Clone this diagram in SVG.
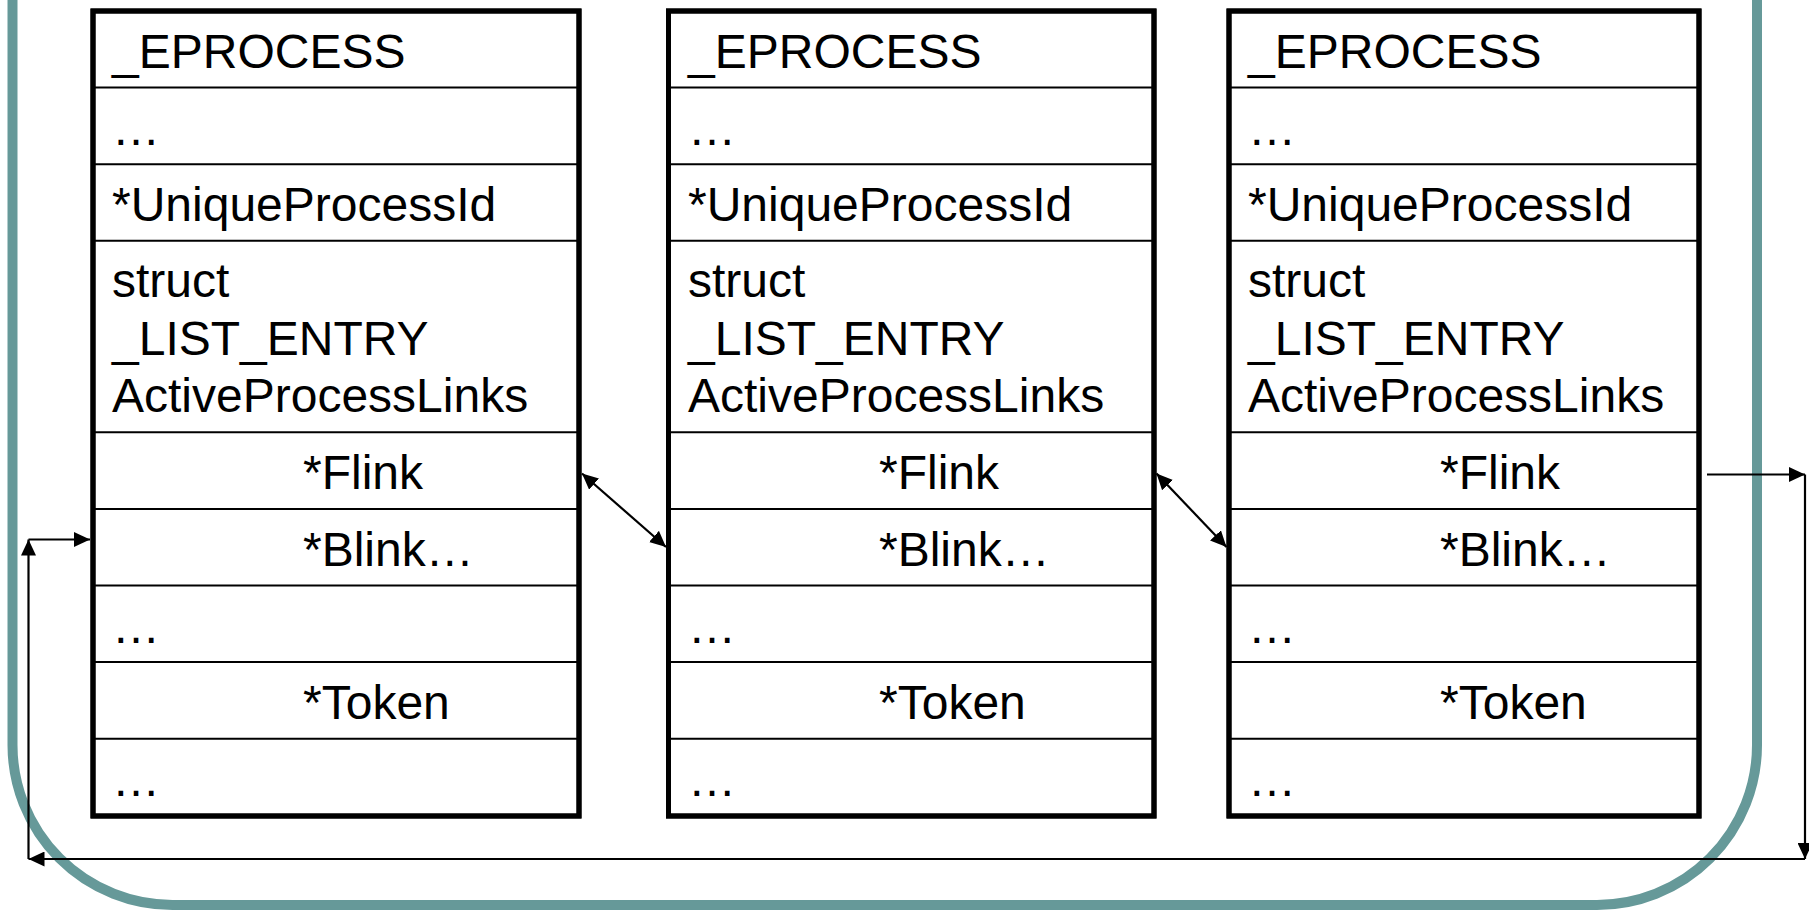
<svg xmlns="http://www.w3.org/2000/svg" width="1809" height="911" viewBox="0 0 1809 911">
  <style>
    .frame { fill: none; stroke: #669999; stroke-width: 10; }
    .box { fill: #ffffff; stroke: #000000; stroke-width: 5; }
    .row { stroke: #000000; stroke-width: 2; }
    .lbl { font-family: "Liberation Sans", Arial, sans-serif; font-size: 48px; fill: #000000; }
    .link { fill: none; stroke: #000000; stroke-width: 2.2; }
    .one { marker-end: url(#head); }
    .both { marker-start: url(#head); marker-end: url(#head); }
  </style>
  <defs>
    <marker id="head" markerUnits="userSpaceOnUse" markerWidth="16" markerHeight="15" viewBox="0 0 16 15" refX="16" refY="7.5" orient="auto-start-reverse">
      <path d="M0,0 L16,7.5 L0,15 Z" fill="#000000"/>
    </marker>
  </defs>

  <rect width="1809" height="911" fill="#ffffff"/>

  <!-- rounded slide frame (top edge runs off the canvas) -->
  <g id="frame">
    <rect class="frame" x="12.5" y="-300" width="1744.5" height="1205" rx="160" ry="160"/>
  </g>

  <!-- _EPROCESS block 1 -->
  <g id="eprocess-1">
    <rect class="box" x="93" y="11" width="486" height="805"/>
    <g class="row">
      <line x1="93" y1="87.6" x2="579" y2="87.6"/>
      <line x1="93" y1="164.2" x2="579" y2="164.2"/>
      <line x1="93" y1="240.8" x2="579" y2="240.8"/>
      <line x1="93" y1="432.3" x2="579" y2="432.3"/>
      <line x1="93" y1="508.9" x2="579" y2="508.9"/>
      <line x1="93" y1="585.5" x2="579" y2="585.5"/>
      <line x1="93" y1="662.1" x2="579" y2="662.1"/>
      <line x1="93" y1="738.7" x2="579" y2="738.7"/>
    </g>
    <rect class="box" x="93" y="11" width="486" height="805" fill="none" style="fill:none"/>
    <g class="lbl">
      <text x="112" y="68.3">_EPROCESS</text>
      <text x="112" y="144.7">…</text>
      <text x="112" y="221.3">*UniqueProcessId</text>
      <text x="112" y="297">struct</text>
      <text x="112" y="354.5">_LIST_ENTRY</text>
      <text x="112" y="412">ActiveProcessLinks</text>
      <text x="303" y="489.4">*Flink</text>
      <text x="303" y="566">*Blink…</text>
      <text x="112" y="642.6">…</text>
      <text x="303" y="719.2">*Token</text>
      <text x="112" y="795.8">…</text>
    </g>
  </g>

  <!-- _EPROCESS block 2 -->
  <g id="eprocess-2">
    <rect class="box" x="668.5" y="11" width="485.5" height="805"/>
    <g class="row">
      <line x1="668.5" y1="87.6" x2="1154" y2="87.6"/>
      <line x1="668.5" y1="164.2" x2="1154" y2="164.2"/>
      <line x1="668.5" y1="240.8" x2="1154" y2="240.8"/>
      <line x1="668.5" y1="432.3" x2="1154" y2="432.3"/>
      <line x1="668.5" y1="508.9" x2="1154" y2="508.9"/>
      <line x1="668.5" y1="585.5" x2="1154" y2="585.5"/>
      <line x1="668.5" y1="662.1" x2="1154" y2="662.1"/>
      <line x1="668.5" y1="738.7" x2="1154" y2="738.7"/>
    </g>
    <rect class="box" x="668.5" y="11" width="485.5" height="805" style="fill:none"/>
    <g class="lbl">
      <text x="688" y="68.3">_EPROCESS</text>
      <text x="688" y="144.7">…</text>
      <text x="688" y="221.3">*UniqueProcessId</text>
      <text x="688" y="297">struct</text>
      <text x="688" y="354.5">_LIST_ENTRY</text>
      <text x="688" y="412">ActiveProcessLinks</text>
      <text x="879" y="489.4">*Flink</text>
      <text x="879" y="566">*Blink…</text>
      <text x="688" y="642.6">…</text>
      <text x="879" y="719.2">*Token</text>
      <text x="688" y="795.8">…</text>
    </g>
  </g>

  <!-- _EPROCESS block 3 -->
  <g id="eprocess-3">
    <rect class="box" x="1229" y="11" width="470" height="805"/>
    <g class="row">
      <line x1="1229" y1="87.6" x2="1699" y2="87.6"/>
      <line x1="1229" y1="164.2" x2="1699" y2="164.2"/>
      <line x1="1229" y1="240.8" x2="1699" y2="240.8"/>
      <line x1="1229" y1="432.3" x2="1699" y2="432.3"/>
      <line x1="1229" y1="508.9" x2="1699" y2="508.9"/>
      <line x1="1229" y1="585.5" x2="1699" y2="585.5"/>
      <line x1="1229" y1="662.1" x2="1699" y2="662.1"/>
      <line x1="1229" y1="738.7" x2="1699" y2="738.7"/>
    </g>
    <rect class="box" x="1229" y="11" width="470" height="805" style="fill:none"/>
    <g class="lbl">
      <text x="1248" y="68.3">_EPROCESS</text>
      <text x="1248" y="144.7">…</text>
      <text x="1248" y="221.3">*UniqueProcessId</text>
      <text x="1248" y="297">struct</text>
      <text x="1248" y="354.5">_LIST_ENTRY</text>
      <text x="1248" y="412">ActiveProcessLinks</text>
      <text x="1440" y="489.4">*Flink</text>
      <text x="1440" y="566">*Blink…</text>
      <text x="1248" y="642.6">…</text>
      <text x="1440" y="719.2">*Token</text>
      <text x="1248" y="795.8">…</text>
    </g>
  </g>

  <!-- list links between the entries -->
  <g id="connectors">
    <line class="link both" x1="582" y1="473.5" x2="666" y2="547"/>
    <line class="link both" x1="1156.5" y1="473.5" x2="1226.5" y2="547"/>
    <line class="link one" x1="1707" y1="474.5" x2="1805" y2="474.5"/>
    <line class="link one" x1="1805" y1="474.5" x2="1805" y2="859"/>
    <line class="link one" x1="1805" y1="859" x2="28.5" y2="859"/>
    <line class="link one" x1="28.5" y1="859" x2="28.5" y2="539.5"/>
    <line class="link one" x1="28.5" y1="539.5" x2="90" y2="539.5"/>
  </g>
</svg>
